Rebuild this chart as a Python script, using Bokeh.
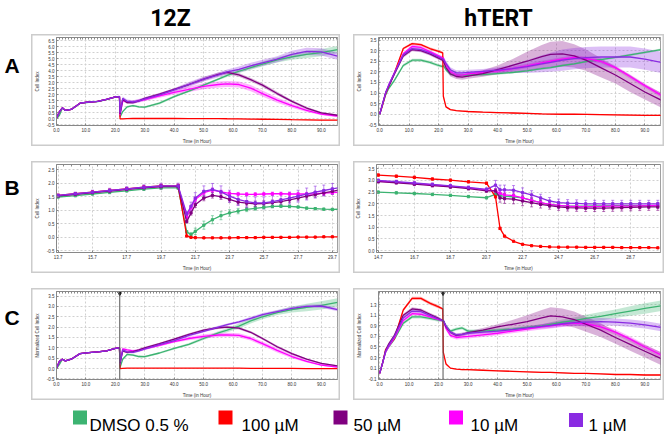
import numpy as np
from bokeh.plotting import figure
from bokeh.layouts import column, row
from bokeh.models import (Range1d, FixedTicker, SingleIntervalTicker, LinearAxis,
                          NumeralTickFormatter, Span, Spacer)
from bokeh.embed import file_html
from bokeh.resources import INLINE
from bokeh.core.properties import value

# ---------------------------------------------------------------- labels
TITLES = ["12Z", "hTERT"]
ROW_LABELS = ["A", "B", "C"]
SERIES = ["DMSO 0.5 %", "100 µM", "50 µM", "10 µM", "1 µM"]
COLORS = ["#3CB371", "#FF0000", "#800080", "#FF00FF", "#8A2BE2"]
X_LABEL = "Time (in Hour)"
Y_LABEL_CI = "Cell Index"
Y_LABEL_NCI = "Normalized Cell Index"
NORM_TIME = 21.5

# ---------------------------------------------------------------- ticks
X_TICKS_LONG = [0, 10, 20, 30, 40, 50, 60, 70, 80, 90]
X_TICKS_B12 = [13.7, 15.7, 17.7, 19.7, 21.7, 23.7, 25.7, 27.7, 29.7]
X_TICKS_BH = [14.7, 16.7, 18.7, 20.7, 22.7, 24.7, 26.7, 28.7]
Y_TICKS_A12 = [-0.5, 0.0, 0.5, 1.0, 1.5, 2.0, 2.5, 3.0, 3.5, 4.0, 4.5, 5.0, 5.5, 6.0, 6.5]
Y_TICKS_AH = [-0.5, 0.0, 0.5, 1.0, 1.5, 2.0, 2.5, 3.0, 3.5]
Y_TICKS_B12 = [-0.5, 0.0, 0.5, 1.0, 1.5, 2.0, 2.5]
Y_TICKS_BH = [0.0, 0.5, 1.0, 1.5, 2.0, 2.5, 3.0, 3.5]
Y_TICKS_C12 = [-0.5, 0.0, 0.5, 1.0, 1.5, 2.0, 2.5, 3.0, 3.5]
Y_TICKS_CH = [-0.1, 0.1, 0.3, 0.5, 0.7, 0.9, 1.1, 1.3]

# ---------------------------------------------------------------- time axes
T_LONG = [0, 1, 2, 3, 5, 8, 11, 14, 17, 20, 21.4, 21.6, 22.5, 24, 26, 28, 30, 35,
          40, 45, 50, 55, 58, 62, 66, 70, 75, 80, 85, 90, 95.5]
T_B12 = [13.7, 14.7, 15.7, 16.7, 17.7, 18.7, 19.7, 20.7, 21.2, 21.45, 21.7, 22.2,
         22.7, 23.2, 23.7, 24.2, 24.7, 25.2, 25.7, 26.2, 26.7, 27.2, 27.7, 28.2,
         28.7, 29.2, 29.7, 30.2]
T_BH = [14.7, 15.7, 16.7, 17.7, 18.7, 19.7, 20.7, 21.2, 21.45, 21.7, 22.2, 22.7,
        23.2, 23.7, 24.2, 24.7, 25.2, 25.7, 26.2, 26.7, 27.2, 27.7, 28.2, 28.7,
        29.2, 29.7, 30.2]

# ---------------------------------------------------------------- A: 12Z cell index
A12_DMSO = [0.0, 0.3, 0.9, 0.7, 0.78, 1.28, 1.38, 1.43, 1.6, 1.8, 1.83, 0.15, 0.6, 1.0, 1.1, 1.0,
            0.97, 1.3, 1.85, 2.3, 2.8, 3.3, 3.6, 3.95, 4.25, 4.55, 4.9, 5.15, 5.35, 5.5, 5.75]
A12_100 = [0.05, 0.6, 0.92, 0.7, 0.78, 1.3, 1.4, 1.45, 1.62, 1.82, 1.85, 0.0, 0.0, 0.02, 0.03, 0.03,
           0.03, 0.03, 0.03, 0.02, 0.02, 0.02, 0.01, 0.0, -0.02, -0.03, -0.05, -0.07, -0.08, -0.1, -0.1]
A12_50 = [0.05, 0.6, 0.92, 0.7, 0.78, 1.3, 1.4, 1.45, 1.62, 1.82, 1.85, 0.4, 1.6, 1.35, 1.35, 1.5,
          1.7, 2.05, 2.45, 2.85, 3.3, 3.7, 3.85, 3.65, 3.25, 2.8, 2.1, 1.45, 0.9, 0.5, 0.3]
A12_10 = [0.05, 0.6, 0.92, 0.7, 0.78, 1.3, 1.4, 1.45, 1.62, 1.82, 1.85, 0.3, 1.5, 1.45, 1.4, 1.5,
          1.6, 1.9, 2.2, 2.45, 2.7, 2.85, 2.9, 2.85, 2.55, 2.1, 1.55, 1.1, 0.7, 0.4, 0.22]
A12_1 = [0.05, 0.6, 0.92, 0.7, 0.78, 1.3, 1.4, 1.45, 1.62, 1.82, 1.85, 0.5, 1.7, 1.45, 1.4, 1.5,
         1.65, 2.0, 2.4, 2.85, 3.3, 3.65, 3.9, 4.1, 4.4, 4.65, 4.95, 5.35, 5.6, 5.55, 5.2]
EA12_DMSO = [0.02, 0.05, 0.05, 0.05, 0.05, 0.05, 0.05, 0.05, 0.05, 0.05, 0.05, 0.05, 0.08, 0.08, 0.08, 0.08,
             0.08, 0.1, 0.1, 0.1, 0.1, 0.1, 0.12, 0.15, 0.18, 0.2, 0.22, 0.25, 0.3, 0.3, 0.3]
EA12_100 = [0.02, 0.05, 0.05, 0.05, 0.05, 0.05, 0.05, 0.05, 0.05, 0.05, 0.05, 0.03, 0.03, 0.03, 0.03, 0.03,
            0.03, 0.03, 0.03, 0.03, 0.03, 0.03, 0.03, 0.03, 0.03, 0.03, 0.03, 0.03, 0.03, 0.03, 0.03]
EA12_50 = [0.02, 0.05, 0.05, 0.05, 0.05, 0.05, 0.05, 0.05, 0.06, 0.06, 0.06, 0.06, 0.1, 0.1, 0.1, 0.1,
           0.1, 0.1, 0.1, 0.12, 0.15, 0.15, 0.15, 0.15, 0.15, 0.15, 0.15, 0.12, 0.1, 0.08, 0.06]
EA12_10 = [0.02, 0.05, 0.05, 0.05, 0.05, 0.05, 0.05, 0.05, 0.06, 0.06, 0.06, 0.06, 0.12, 0.12, 0.12, 0.12,
           0.12, 0.15, 0.18, 0.22, 0.25, 0.25, 0.25, 0.25, 0.25, 0.25, 0.22, 0.18, 0.14, 0.1, 0.08]
EA12_1 = [0.02, 0.05, 0.05, 0.05, 0.05, 0.05, 0.05, 0.05, 0.06, 0.06, 0.06, 0.06, 0.15, 0.15, 0.15, 0.15,
          0.15, 0.15, 0.15, 0.2, 0.2, 0.2, 0.2, 0.25, 0.25, 0.25, 0.25, 0.3, 0.3, 0.3, 0.3]

# ---------------------------------------------------------------- A: hTERT cell index
AH_DMSO = [0.0, 0.45, 0.9, 1.2, 1.6, 2.3, 2.55, 2.55, 2.45, 2.3, 2.25, 2.3, 2.1, 1.9, 1.85, 1.83,
           1.85, 1.87, 1.92, 1.97, 2.05, 2.15, 2.2, 2.3, 2.38, 2.48, 2.58, 2.68, 2.8, 2.92, 3.05]
AH_100 = [0.0, 0.45, 0.95, 1.3, 1.95, 3.1, 3.33, 3.28, 3.1, 2.97, 2.9, 0.85, 0.35, 0.22, 0.17, 0.15,
          0.13, 0.1, 0.08, 0.06, 0.04, 0.02, 0.01, 0.0, 0.0, -0.01, -0.02, -0.03, -0.04, -0.05, -0.05]
AH_50 = [0.0, 0.5, 1.0, 1.3, 1.9, 2.75, 3.05, 3.0, 2.85, 2.65, 2.55, 2.5, 2.2, 1.9, 1.78, 1.75,
         1.8, 1.92, 2.1, 2.3, 2.5, 2.72, 2.82, 2.85, 2.75, 2.55, 2.2, 1.85, 1.45, 1.05, 0.67]
AH_10 = [0.0, 0.5, 1.0, 1.35, 1.95, 2.85, 3.2, 3.15, 2.95, 2.75, 2.65, 2.65, 2.35, 2.0, 1.85, 1.85,
         1.9, 1.98, 2.05, 2.15, 2.28, 2.42, 2.5, 2.6, 2.68, 2.62, 2.5, 2.2, 1.78, 1.35, 0.9]
AH_1 = [0.0, 0.5, 1.0, 1.35, 1.95, 2.8, 3.1, 3.05, 2.9, 2.7, 2.6, 2.6, 2.4, 2.1, 1.95, 1.95,
        1.98, 2.02, 2.08, 2.15, 2.25, 2.38, 2.45, 2.55, 2.62, 2.67, 2.7, 2.7, 2.7, 2.6, 2.45]
EAH_DMSO = [0.02, 0.05, 0.05, 0.06, 0.06, 0.07, 0.07, 0.07, 0.07, 0.07, 0.07, 0.07, 0.08, 0.08, 0.07, 0.06,
            0.06, 0.06, 0.06, 0.05, 0.05, 0.05, 0.05, 0.05, 0.05, 0.05, 0.05, 0.05, 0.05, 0.05, 0.05]
EAH_100 = [0.02, 0.05, 0.06, 0.06, 0.06, 0.06, 0.06, 0.06, 0.06, 0.06, 0.06, 0.1, 0.04, 0.03, 0.03, 0.03,
           0.03, 0.03, 0.03, 0.03, 0.03, 0.03, 0.03, 0.03, 0.03, 0.03, 0.03, 0.03, 0.03, 0.03, 0.03]
EAH_50 = [0.02, 0.06, 0.08, 0.08, 0.08, 0.08, 0.08, 0.08, 0.08, 0.08, 0.08, 0.1, 0.12, 0.12, 0.12, 0.12,
          0.12, 0.15, 0.2, 0.3, 0.45, 0.55, 0.6, 0.6, 0.55, 0.5, 0.45, 0.4, 0.4, 0.35, 0.35]
EAH_10 = [0.02, 0.06, 0.08, 0.08, 0.08, 0.08, 0.08, 0.08, 0.08, 0.08, 0.08, 0.1, 0.1, 0.1, 0.1, 0.1,
          0.1, 0.1, 0.1, 0.1, 0.1, 0.1, 0.1, 0.1, 0.1, 0.1, 0.1, 0.1, 0.1, 0.1, 0.1]
EAH_1 = [0.02, 0.06, 0.1, 0.1, 0.1, 0.1, 0.1, 0.1, 0.1, 0.1, 0.1, 0.12, 0.12, 0.12, 0.12, 0.12,
         0.12, 0.12, 0.12, 0.2, 0.3, 0.4, 0.45, 0.5, 0.5, 0.5, 0.5, 0.5, 0.5, 0.5, 0.5]

# ---------------------------------------------------------------- B: 12Z zoom
B12_DMSO = [1.49, 1.54, 1.6, 1.66, 1.72, 1.78, 1.83, 1.83, 0.2, 0.1, 0.22, 0.45, 0.65, 0.8,
            0.9, 0.97, 1.03, 1.07, 1.11, 1.14, 1.15, 1.14, 1.12, 1.08, 1.06, 1.04, 1.03, 1.04]
B12_100 = [1.55, 1.61, 1.67, 1.73, 1.79, 1.85, 1.9, 1.9, 0.05, 0.0, -0.01, -0.02, -0.02, -0.02,
           -0.02, -0.01, -0.01, -0.01, 0.0, 0.0, 0.0, 0.0, 0.01, 0.01, 0.01, 0.02, 0.02, 0.02]
B12_50 = [1.53, 1.59, 1.65, 1.71, 1.77, 1.83, 1.87, 1.87, 0.58, 0.9, 1.2, 1.45, 1.55, 1.5,
          1.4, 1.3, 1.26, 1.24, 1.25, 1.28, 1.32, 1.38, 1.45, 1.52, 1.58, 1.64, 1.7, 1.76]
B12_10 = [1.54, 1.6, 1.66, 1.72, 1.78, 1.84, 1.88, 1.88, 0.75, 1.1, 1.4, 1.65, 1.74, 1.68,
          1.62, 1.6, 1.59, 1.59, 1.6, 1.61, 1.61, 1.6, 1.6, 1.6, 1.61, 1.63, 1.65, 1.67]
B12_1 = [1.55, 1.61, 1.67, 1.73, 1.79, 1.85, 1.9, 1.9, 0.86, 1.15, 1.45, 1.7, 1.77, 1.68,
         1.52, 1.4, 1.32, 1.27, 1.27, 1.32, 1.38, 1.45, 1.52, 1.6, 1.67, 1.73, 1.79, 1.85]
EB12_DMSO = [0.04, 0.04, 0.04, 0.05, 0.05, 0.05, 0.06, 0.06, 0.05, 0.08, 0.12, 0.15, 0.15, 0.15,
             0.12, 0.1, 0.08, 0.07, 0.06, 0.05, 0.05, 0.05, 0.04, 0.04, 0.04, 0.04, 0.04, 0.04]
EB12_100 = [0.04, 0.04, 0.04, 0.05, 0.05, 0.05, 0.06, 0.06, 0.03, 0.02, 0.02, 0.02, 0.02, 0.02,
            0.02, 0.02, 0.02, 0.02, 0.02, 0.02, 0.02, 0.02, 0.02, 0.02, 0.02, 0.02, 0.02, 0.02]
EB12_50 = [0.04, 0.05, 0.05, 0.06, 0.06, 0.07, 0.08, 0.08, 0.05, 0.08, 0.1, 0.1, 0.1, 0.1,
           0.1, 0.1, 0.1, 0.1, 0.1, 0.1, 0.1, 0.1, 0.1, 0.1, 0.1, 0.1, 0.1, 0.1]
EB12_10 = [0.04, 0.05, 0.05, 0.06, 0.06, 0.07, 0.08, 0.08, 0.05, 0.06, 0.08, 0.08, 0.08, 0.06,
           0.06, 0.06, 0.06, 0.06, 0.06, 0.06, 0.06, 0.06, 0.06, 0.06, 0.06, 0.06, 0.06, 0.06]
EB12_1 = [0.05, 0.06, 0.07, 0.08, 0.08, 0.09, 0.1, 0.1, 0.1, 0.15, 0.2, 0.2, 0.22, 0.22,
          0.22, 0.22, 0.22, 0.22, 0.22, 0.22, 0.22, 0.22, 0.22, 0.22, 0.22, 0.2, 0.2, 0.2]

# ---------------------------------------------------------------- B: hTERT zoom
BH_DMSO = [2.5, 2.47, 2.44, 2.4, 2.36, 2.31, 2.26, 2.4, 2.35, 2.32, 2.3, 2.25, 2.15, 2.05,
           1.97, 1.93, 1.9, 1.9, 1.9, 1.91, 1.91, 1.92, 1.92, 1.92, 1.92, 1.92, 1.92]
BH_100 = [3.23, 3.18, 3.13, 3.06, 3.01, 2.94, 2.88, 2.3, 0.95, 0.62, 0.4, 0.27, 0.21, 0.18,
          0.16, 0.15, 0.15, 0.15, 0.14, 0.14, 0.14, 0.14, 0.13, 0.13, 0.13, 0.13, 0.12]
BH_50 = [2.95, 2.9, 2.84, 2.78, 2.72, 2.65, 2.55, 2.55, 2.25, 2.22, 2.2, 2.12, 2.05, 1.98,
         1.92, 1.87, 1.84, 1.83, 1.82, 1.82, 1.82, 1.83, 1.84, 1.85, 1.86, 1.87, 1.87]
BH_10 = [2.97, 2.93, 2.87, 2.81, 2.75, 2.68, 2.6, 2.55, 2.45, 2.38, 2.35, 2.25, 2.15, 2.05,
         1.98, 1.93, 1.9, 1.88, 1.88, 1.88, 1.89, 1.9, 1.9, 1.9, 1.91, 1.92, 1.93]
BH_1 = [3.0, 2.95, 2.89, 2.83, 2.77, 2.7, 2.62, 2.8, 2.6, 2.6, 2.58, 2.48, 2.38, 2.25,
        2.12, 2.05, 2.03, 2.02, 2.0, 2.0, 2.0, 2.0, 2.0, 2.0, 2.0, 2.0, 2.0]
EBH_DMSO = [0.05, 0.05, 0.05, 0.05, 0.05, 0.05, 0.05, 0.08, 0.1, 0.12, 0.12, 0.12, 0.12, 0.12,
            0.12, 0.12, 0.12, 0.12, 0.12, 0.12, 0.12, 0.12, 0.12, 0.12, 0.12, 0.12, 0.12]
EBH_100 = [0.05, 0.05, 0.05, 0.05, 0.05, 0.05, 0.05, 0.05, 0.05, 0.03, 0.02, 0.02, 0.02, 0.02,
           0.02, 0.02, 0.02, 0.02, 0.02, 0.02, 0.02, 0.02, 0.02, 0.02, 0.02, 0.02, 0.02]
EBH_50 = [0.06, 0.06, 0.06, 0.06, 0.06, 0.06, 0.06, 0.1, 0.18, 0.2, 0.2, 0.2, 0.18, 0.16,
          0.15, 0.15, 0.15, 0.15, 0.15, 0.15, 0.15, 0.15, 0.15, 0.15, 0.15, 0.15, 0.15]
EBH_10 = [0.06, 0.06, 0.06, 0.06, 0.06, 0.06, 0.06, 0.08, 0.12, 0.12, 0.12, 0.12, 0.12, 0.12,
          0.12, 0.12, 0.12, 0.12, 0.12, 0.12, 0.12, 0.12, 0.12, 0.12, 0.12, 0.12, 0.12]
EBH_1 = [0.06, 0.06, 0.06, 0.06, 0.06, 0.06, 0.06, 0.2, 0.2, 0.2, 0.2, 0.2, 0.18, 0.16,
         0.15, 0.15, 0.15, 0.15, 0.15, 0.15, 0.15, 0.15, 0.15, 0.15, 0.15, 0.15, 0.15]

# ---------------------------------------------------------------- C: 12Z normalized
C12_DMSO = [0.0, 0.2, 0.45, 0.37, 0.45, 0.72, 0.77, 0.8, 0.85, 0.97, 1.0, 0.05, 0.45, 0.68, 0.65, 0.58,
            0.57, 0.75, 0.97, 1.17, 1.45, 1.72, 1.85, 2.05, 2.3, 2.5, 2.7, 2.85, 2.95, 3.05, 3.2]
C12_100 = [0.02, 0.35, 0.45, 0.37, 0.45, 0.72, 0.77, 0.8, 0.85, 0.97, 1.0, 0.0, 0.01, 0.02, 0.02, 0.02,
           0.02, 0.02, 0.02, 0.02, 0.02, 0.02, 0.02, 0.02, 0.01, 0.01, 0.01, 0.01, 0.0, 0.0, 0.0]
C12_50 = [0.02, 0.35, 0.45, 0.37, 0.45, 0.72, 0.77, 0.8, 0.85, 0.97, 1.0, 0.25, 0.85, 0.78, 0.82, 0.9,
          1.0, 1.2, 1.42, 1.65, 1.85, 1.97, 2.0, 1.95, 1.75, 1.45, 1.05, 0.72, 0.45, 0.25, 0.13]
C12_10 = [0.02, 0.35, 0.45, 0.37, 0.45, 0.72, 0.77, 0.8, 0.85, 0.97, 1.0, 0.2, 0.95, 0.9, 0.85, 0.88,
          0.95, 1.12, 1.3, 1.45, 1.55, 1.62, 1.63, 1.6, 1.45, 1.2, 0.88, 0.58, 0.35, 0.17, 0.07]
C12_1 = [0.02, 0.35, 0.45, 0.37, 0.45, 0.72, 0.77, 0.8, 0.85, 0.97, 1.0, 0.3, 0.9, 0.8, 0.78, 0.85,
         0.95, 1.15, 1.35, 1.6, 1.8, 2.0, 2.12, 2.25, 2.42, 2.6, 2.75, 2.9, 3.0, 3.02, 2.85]
EC12_DMSO = [0.01, 0.03, 0.03, 0.03, 0.03, 0.03, 0.03, 0.03, 0.03, 0.03, 0.03, 0.03, 0.05, 0.05, 0.05, 0.05,
             0.05, 0.05, 0.05, 0.06, 0.07, 0.08, 0.1, 0.12, 0.12, 0.12, 0.12, 0.15, 0.18, 0.2, 0.2]
EC12_100 = [0.01, 0.03, 0.03, 0.03, 0.03, 0.03, 0.03, 0.03, 0.03, 0.03, 0.03, 0.01, 0.01, 0.01, 0.01, 0.01,
            0.01, 0.01, 0.01, 0.01, 0.01, 0.01, 0.01, 0.01, 0.01, 0.01, 0.01, 0.01, 0.01, 0.01, 0.01]
EC12_50 = [0.01, 0.03, 0.03, 0.03, 0.03, 0.03, 0.03, 0.03, 0.03, 0.03, 0.03, 0.03, 0.05, 0.05, 0.05, 0.05,
           0.05, 0.05, 0.05, 0.05, 0.06, 0.06, 0.06, 0.06, 0.06, 0.06, 0.06, 0.05, 0.04, 0.03, 0.03]
EC12_10 = [0.01, 0.03, 0.03, 0.03, 0.03, 0.03, 0.03, 0.03, 0.03, 0.03, 0.03, 0.03, 0.06, 0.06, 0.06, 0.06,
           0.06, 0.06, 0.06, 0.08, 0.1, 0.1, 0.1, 0.1, 0.1, 0.1, 0.1, 0.08, 0.06, 0.04, 0.03]
EC12_1 = [0.01, 0.03, 0.03, 0.03, 0.03, 0.03, 0.03, 0.03, 0.03, 0.03, 0.03, 0.03, 0.05, 0.05, 0.05, 0.05,
          0.05, 0.05, 0.05, 0.06, 0.06, 0.06, 0.06, 0.06, 0.08, 0.08, 0.08, 0.08, 0.08, 0.08, 0.08]

# ---------------------------------------------------------------- C: hTERT normalized
CH_DMSO = [0.0, 0.2, 0.4, 0.5, 0.65, 0.95, 1.07, 1.07, 1.04, 1.01, 1.0, 1.0, 0.9, 0.8, 0.84, 0.86,
           0.8, 0.8, 0.82, 0.84, 0.87, 0.9, 0.93, 0.97, 1.0, 1.04, 1.08, 1.13, 1.18, 1.23, 1.28]
CH_100 = [0.0, 0.2, 0.45, 0.52, 0.66, 1.2, 1.42, 1.42, 1.33, 1.26, 1.22, 0.4, 0.18, 0.1, 0.08, 0.07,
          0.07, 0.06, 0.05, 0.04, 0.03, 0.02, 0.02, 0.01, 0.0, 0.0, -0.01, -0.02, -0.02, -0.03, -0.03]
CH_50 = [0.0, 0.2, 0.43, 0.55, 0.72, 1.1, 1.22, 1.2, 1.12, 1.04, 1.0, 1.0, 0.88, 0.78, 0.72, 0.74,
         0.77, 0.82, 0.88, 0.93, 0.98, 1.05, 1.09, 1.07, 1.02, 0.93, 0.82, 0.68, 0.55, 0.42, 0.28]
CH_10 = [0.0, 0.2, 0.4, 0.5, 0.67, 1.0, 1.13, 1.12, 1.07, 1.02, 1.0, 1.0, 0.85, 0.72, 0.68, 0.69,
         0.7, 0.73, 0.76, 0.8, 0.84, 0.88, 0.9, 0.93, 0.95, 0.94, 0.88, 0.78, 0.65, 0.5, 0.35]
CH_1 = [0.0, 0.2, 0.42, 0.52, 0.7, 1.05, 1.18, 1.17, 1.1, 1.03, 1.0, 1.0, 0.9, 0.78, 0.73, 0.74,
        0.76, 0.78, 0.8, 0.83, 0.86, 0.89, 0.91, 0.94, 0.96, 0.97, 0.98, 0.97, 0.95, 0.92, 0.87]
ECH_DMSO = [0.0, 0.02, 0.03, 0.03, 0.03, 0.03, 0.03, 0.03, 0.03, 0.03, 0.02, 0.02, 0.03, 0.03, 0.03, 0.03,
            0.03, 0.03, 0.03, 0.03, 0.03, 0.03, 0.04, 0.05, 0.06, 0.07, 0.08, 0.08, 0.09, 0.1, 0.1]
ECH_100 = [0.0, 0.02, 0.03, 0.03, 0.03, 0.03, 0.03, 0.03, 0.03, 0.03, 0.02, 0.03, 0.02, 0.01, 0.01, 0.01,
           0.01, 0.01, 0.01, 0.01, 0.01, 0.01, 0.01, 0.01, 0.01, 0.01, 0.01, 0.01, 0.01, 0.01, 0.01]
ECH_50 = [0.0, 0.02, 0.03, 0.03, 0.03, 0.03, 0.03, 0.03, 0.03, 0.03, 0.02, 0.02, 0.03, 0.03, 0.03, 0.03,
          0.03, 0.04, 0.05, 0.08, 0.12, 0.15, 0.16, 0.16, 0.15, 0.14, 0.13, 0.12, 0.12, 0.12, 0.12]
ECH_10 = [0.0, 0.02, 0.03, 0.03, 0.03, 0.03, 0.03, 0.03, 0.03, 0.03, 0.02, 0.02, 0.04, 0.04, 0.04, 0.04,
          0.04, 0.04, 0.04, 0.04, 0.04, 0.05, 0.05, 0.05, 0.05, 0.05, 0.05, 0.05, 0.05, 0.05, 0.05]
ECH_1 = [0.0, 0.02, 0.03, 0.03, 0.03, 0.03, 0.03, 0.03, 0.03, 0.03, 0.02, 0.02, 0.03, 0.03, 0.03, 0.03,
         0.03, 0.03, 0.03, 0.03, 0.03, 0.04, 0.05, 0.05, 0.06, 0.07, 0.07, 0.07, 0.07, 0.07, 0.07]

# ---------------------------------------------------------------- layout constants
FONT = "Liberation Sans"
ROW_H = 112
LABEL_W = 31
LEFT_W = 309
GAP_W = 13
RIGHT_W = 311
PAGE_W = 669
HEADER_H = 34
LEGEND_H = 36
GAP1_H = 15
GAP2_H = 15
DRAW_ORDER = [0, 1, 3, 2, 4]


def plain_fig(w, h):
    p = figure(width=w, height=h, x_range=Range1d(0, w), y_range=Range1d(h, 0),
               output_backend="svg", toolbar_location=None,
               x_axis_location=None, y_axis_location=None, min_border=0)
    p.grid.visible = False
    p.outline_line_color = None
    p.background_fill_color = None
    p.border_fill_color = None
    return p


def chart(w, right_border, t, vals, errs, xr, yr, xticks, yticks, ylabel,
          bars=False, ruler=1.0, vline=False):
    for v, e in zip(vals, errs):
        assert len(v) == len(t) and len(e) == len(t)
    p = figure(width=w, height=ROW_H, x_range=Range1d(*xr), y_range=Range1d(*yr),
               output_backend="svg", toolbar_location=None,
               min_border_left=19, min_border_right=right_border,
               min_border_top=3, min_border_bottom=17)
    p.border_fill_color = None
    p.background_fill_color = "white"
    p.outline_line_color = "#a0a0a0"
    p.styles = {"box-shadow": "inset 0 0 0 1.5px #cccccc"}
    xa, ya = p.xaxis[0], p.yaxis[0]
    xa.ticker = FixedTicker(ticks=xticks)
    ya.ticker = FixedTicker(ticks=yticks)
    for ax in (xa, ya):
        ax.formatter = NumeralTickFormatter(format="0.0")
        ax.major_label_text_font = FONT
        ax.major_label_text_font_size = "4.5px"
        ax.major_label_text_color = "#333333"
        ax.major_tick_in = 2
        ax.major_tick_out = 0
        ax.minor_tick_line_color = None
        ax.axis_line_color = "#888888"
        ax.major_tick_line_color = "#888888"
        ax.major_label_standoff = 2
        ax.axis_label_text_font = FONT
        ax.axis_label_text_font_size = "4.5px"
        ax.axis_label_text_font_style = "normal"
        ax.axis_label_text_color = "#333333"
        ax.axis_label_standoff = 4
    xa.axis_label = X_LABEL
    ya.axis_label = ylabel
    p.grid.grid_line_color = "#d0d0d0"
    p.grid.grid_line_dash = "2 2"
    # ruler-like tick row along the top edge (no labels drawn)
    top = LinearAxis(ticker=SingleIntervalTicker(interval=ruler, num_minor_ticks=0),
                     major_label_text_font_size="1px", major_label_text_color=None,
                     major_label_standoff=0, major_tick_in=2, major_tick_out=0,
                     axis_line_color="#888888", major_tick_line_color="#888888",
                     minor_tick_line_color=None)
    p.add_layout(top, "above")

    for i in DRAW_ORDER:
        v = np.array(vals[i], dtype=float)
        e = np.array(errs[i], dtype=float)
        if bars:
            p.segment(x0=t, y0=v - e, x1=t, y1=v + e, line_color=COLORS[i], line_alpha=0.55, line_width=1)
            p.scatter(x=list(t) + list(t), y=list(v - e) + list(v + e), marker="dash", size=3,
                      line_color=COLORS[i], line_alpha=0.55)
        else:
            p.varea(x=t, y1=v - e, y2=v + e, fill_color=COLORS[i], fill_alpha=0.3)
    for i in DRAW_ORDER:
        p.line(t, vals[i], line_color=COLORS[i], line_width=1.3)
        if bars:
            p.scatter(t, vals[i], marker="square", size=2.2, color=COLORS[i])
    if vline:
        p.add_layout(Span(location=NORM_TIME, dimension="height", line_color="#555555", line_width=1))
        p.scatter([NORM_TIME], [yr[1]], marker="inverted_triangle", size=7, color="black")
    return p


def label_fig(letter, y):
    p = plain_fig(LABEL_W, ROW_H)
    p.text(x=[11.5], y=[y], text=[letter], text_align="center", text_baseline="middle",
           text_font=value(FONT), text_font_style="bold", text_font_size="21px", text_color="black")
    return p


# ---------------------------------------------------------------- panels
pA1 = chart(LEFT_W, 3, T_LONG, [A12_DMSO, A12_100, A12_50, A12_10, A12_1],
            [EA12_DMSO, EA12_100, EA12_50, EA12_10, EA12_1],
            (0, 95.5), (-0.55, 6.75), X_TICKS_LONG, Y_TICKS_A12, Y_LABEL_CI)
pA2 = chart(RIGHT_W, 4, T_LONG, [AH_DMSO, AH_100, AH_50, AH_10, AH_1],
            [EAH_DMSO, EAH_100, EAH_50, EAH_10, EAH_1],
            (-0.4, 95.3), (-0.53, 3.62), X_TICKS_LONG, Y_TICKS_AH, Y_LABEL_CI)
pB1 = chart(LEFT_W, 3, T_B12, [B12_DMSO, B12_100, B12_50, B12_10, B12_1],
            [EB12_DMSO, EB12_100, EB12_50, EB12_10, EB12_1],
            (13.6, 30.0), (-0.56, 2.69), X_TICKS_B12, Y_TICKS_B12, Y_LABEL_CI, bars=True, ruler=0.5)
pB2 = chart(RIGHT_W, 4, T_BH, [BH_DMSO, BH_100, BH_50, BH_10, BH_1],
            [EBH_DMSO, EBH_100, EBH_50, EBH_10, EBH_1],
            (14.6, 30.35), (-0.08, 3.68), X_TICKS_BH, Y_TICKS_BH, Y_LABEL_CI, bars=True, ruler=0.5)
pC1 = chart(LEFT_W, 3, T_LONG, [C12_DMSO, C12_100, C12_50, C12_10, C12_1],
            [EC12_DMSO, EC12_100, EC12_50, EC12_10, EC12_1],
            (0, 95.5), (-0.53, 3.72), X_TICKS_LONG, Y_TICKS_C12, Y_LABEL_NCI, vline=True)
pC2 = chart(RIGHT_W, 4, T_LONG, [CH_DMSO, CH_100, CH_50, CH_10, CH_1],
            [ECH_DMSO, ECH_100, ECH_50, ECH_10, ECH_1],
            (-0.4, 95.3), (-0.115, 1.55), X_TICKS_LONG, Y_TICKS_CH, Y_LABEL_NCI, vline=True)

# ---------------------------------------------------------------- header
header = plain_fig(PAGE_W, HEADER_H)
header.text(x=[170, 498], y=[17.5, 17.5], text=TITLES, text_align="center", text_baseline="middle",
            text_font=value("Roboto"), text_font_style="bold", text_font_size="23px", text_color="black")

# ---------------------------------------------------------------- legend
legend = plain_fig(PAGE_W, LEGEND_H)
LEG_SQ_X = [79.5, 225, 340, 455.5, 575.5]
LEG_SQ_Y = [17, 17, 17, 17, 19.5]
LEG_TX_X = [89, 241, 353, 470, 588]
LEG_TX_Y = [25, 25, 25, 25, 25]
legend.scatter(LEG_SQ_X, LEG_SQ_Y, marker="square", size=14, fill_color=COLORS, line_color=None)
legend.text(x=LEG_TX_X, y=LEG_TX_Y, text=SERIES, text_align="left", text_baseline="alphabetic",
            text_font=value(FONT), text_font_size="17px", text_color="black")

layout = column(
    header,
    row(label_fig(ROW_LABELS[0], 35.5), pA1, Spacer(width=GAP_W, height=ROW_H), pA2),
    Spacer(width=PAGE_W, height=GAP1_H),
    row(label_fig(ROW_LABELS[1], 29), pB1, Spacer(width=GAP_W, height=ROW_H), pB2),
    Spacer(width=PAGE_W, height=GAP2_H),
    row(label_fig(ROW_LABELS[2], 32.5), pC1, Spacer(width=GAP_W, height=ROW_H), pC2),
    legend,
)

open("out.html", "w", encoding="utf-8").write(file_html(layout, INLINE))
